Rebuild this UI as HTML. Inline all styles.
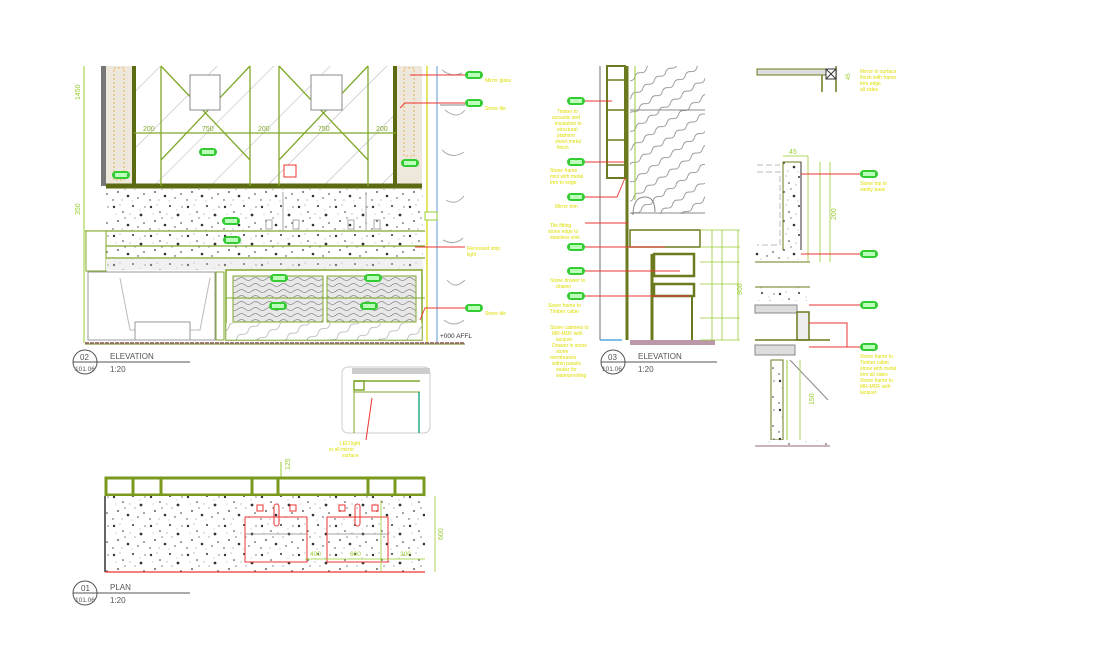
<!DOCTYPE html>
<html><head><meta charset="utf-8"><style>
html,body{margin:0;padding:0;background:#fff;}
svg{display:block;font-family:"Liberation Sans",sans-serif;}
</style></head><body>
<svg width="1111" height="662" viewBox="0 0 1111 662" xmlns="http://www.w3.org/2000/svg">
<defs>
<pattern id="tz" width="37" height="29" patternUnits="userSpaceOnUse">
<rect width="37" height="29" fill="#fff"/>
<g fill="#333">
<circle cx="3" cy="4" r="1.2"/><circle cx="12" cy="9" r="0.8"/><circle cx="22" cy="3" r="1"/><circle cx="30" cy="12" r="1.4"/>
<circle cx="7" cy="18" r="0.9"/><circle cx="17" cy="22" r="1.3"/><circle cx="27" cy="24" r="0.7"/><circle cx="34" cy="4" r="0.6"/>
<circle cx="14" cy="15" r="0.6"/><circle cx="2" cy="26" r="0.7"/><circle cx="24" cy="15" r="0.5"/><circle cx="33" cy="20" r="0.8"/>
</g>
<g fill="#999"><circle cx="9" cy="2" r="0.6"/><circle cx="19" cy="11" r="0.6"/><circle cx="29" cy="7" r="0.5"/><circle cx="5" cy="11" r="0.5"/><circle cx="11" cy="26" r="0.6"/><circle cx="21" cy="27" r="0.5"/></g>
</pattern>
<pattern id="wv" width="14" height="12" patternUnits="userSpaceOnUse">
<rect width="14" height="12" fill="#e8e8e8"/>
<path d="M0 3 Q3.5 0 7 3 T14 3 M0 9 Q3.5 6 7 9 T14 9" stroke="#888" stroke-width="0.8" fill="none"/>
</pattern>
<pattern id="hatch" width="14" height="14" patternUnits="userSpaceOnUse" patternTransform="rotate(-35)">
<rect width="14" height="14" fill="#fff"/>
<path d="M0 7 Q3.5 4 7 7 T14 7" stroke="#777" stroke-width="0.8" fill="none"/>
</pattern>
<pattern id="diag" width="40" height="40" patternUnits="userSpaceOnUse" patternTransform="rotate(45)">
<line x1="0" y1="0" x2="0" y2="40" stroke="#999" stroke-width="0.8"/>
</pattern>
<g id="pill"><rect x="0" y="0" width="18" height="8" rx="4" fill="#3c3" /><rect x="3" y="2" width="12" height="4" fill="#bfb"/></g>
</defs>

<!-- ============ ELEVATION 02 ============ -->
<g>
<line x1="84" y1="66" x2="84" y2="343" stroke="#9c3" stroke-width="1"/>
<text x="80" y="100" font-size="7" fill="#9c3" transform="rotate(-90 80 100)">1450</text>
<text x="80" y="215" font-size="7" fill="#9c3" transform="rotate(-90 80 215)">350</text>
<rect x="101" y="66" width="5" height="120" fill="#777"/>
<!-- pillars -->
<rect x="106" y="66" width="27" height="120" fill="#eee8dc"/>
<rect x="114" y="68" width="10" height="112" fill="none" stroke="#e9a23b" stroke-width="0.8" stroke-dasharray="2,2"/>
<rect x="396" y="66" width="26" height="120" fill="#eee8dc"/>
<rect x="404" y="68" width="10" height="88" fill="none" stroke="#e9a23b" stroke-width="0.8" stroke-dasharray="2,2"/>
<!-- mirror -->
<rect x="134" y="66" width="262" height="120" fill="#fff"/>
<rect x="134" y="66" width="262" height="120" fill="url(#diag)"/>
<line x1="134" y1="66" x2="134" y2="188" stroke="#5a6b12" stroke-width="4"/>
<line x1="395" y1="66" x2="395" y2="188" stroke="#5a6b12" stroke-width="4"/>
<line x1="106" y1="186" x2="422" y2="186" stroke="#5a6b12" stroke-width="5"/>
<g stroke="#7fa82a" stroke-width="1.3">
<line x1="161" y1="66" x2="161" y2="186"/><line x1="250" y1="66" x2="250" y2="186"/>
<line x1="279" y1="66" x2="279" y2="186"/><line x1="368" y1="66" x2="368" y2="186"/>
<line x1="134" y1="133" x2="396" y2="133"/>
<line x1="161" y1="66" x2="250" y2="160"/><line x1="250" y1="66" x2="161" y2="160"/>
<line x1="279" y1="66" x2="368" y2="160"/><line x1="368" y1="66" x2="279" y2="160"/>
</g>
<rect x="190" y="75" width="30" height="35" fill="#fff" stroke="#888" stroke-width="1"/>
<rect x="311" y="75" width="31" height="35" fill="#fff" stroke="#888" stroke-width="1"/>
<g font-size="7" fill="#7fa82a"><text x="143" y="131">200</text><text x="202" y="131">750</text><text x="258" y="131">200</text><text x="318" y="131">750</text><text x="376" y="131">200</text></g>
<rect x="284" y="165" width="12" height="12" fill="#fff" stroke="#e33" stroke-width="1"/>
<use href="#pill" x="199" y="148"/><use href="#pill" x="112" y="171"/><use href="#pill" x="401" y="159"/>
<!-- terrazzo -->
<rect x="106" y="189" width="317" height="69" fill="url(#tz)"/>
<g stroke="#7fa82a" stroke-width="1.2"><line x1="85" y1="231" x2="425" y2="231"/><line x1="106" y1="246" x2="425" y2="246"/><line x1="106" y1="258" x2="425" y2="258"/></g>
<rect x="86" y="231" width="20" height="40" fill="#fff" stroke="#7fa82a" stroke-width="1"/>
<use href="#pill" x="222" y="217"/><use href="#pill" x="223" y="236"/>
<g stroke="#aaa" fill="none" stroke-width="1"><line x1="283" y1="192" x2="283" y2="230"/><line x1="366" y1="192" x2="366" y2="230"/><rect x="266" y="220" width="6" height="9"/><rect x="293" y="220" width="6" height="9"/><rect x="348" y="220" width="6" height="9"/><rect x="374" y="220" width="6" height="9"/></g>
<rect x="106" y="259" width="317" height="11" fill="#ddd"/>
<rect x="106" y="259" width="317" height="11" fill="url(#tz)" opacity="0.6"/>
<!-- bathtub -->
<path d="M88 272 L215 272 L215 340 L88 340 Z" fill="#fff" stroke="#999" stroke-width="1"/>
<path d="M120 278 L130 330 L200 330 L210 278" fill="none" stroke="#bbb"/>
<rect x="135" y="322" width="55" height="18" fill="#fff" stroke="#999"/>
<rect x="216" y="272" width="8" height="68" fill="#fff" stroke="#7fa82a"/>
<!-- cabinet -->
<rect x="226" y="270" width="196" height="70" fill="#fff" stroke="#7fa82a" stroke-width="1.5"/>
<rect x="233" y="276" width="90" height="46" fill="url(#wv)" stroke="#7fa82a"/>
<rect x="327" y="276" width="89" height="46" fill="url(#wv)" stroke="#7fa82a"/>
<line x1="226" y1="298" x2="425" y2="298" stroke="#7fa82a"/>
<use href="#pill" x="270" y="274"/><use href="#pill" x="364" y="274"/><use href="#pill" x="269" y="302"/><use href="#pill" x="360" y="302"/>
<rect x="226" y="323" width="196" height="17" fill="url(#hatch)" opacity="0.6"/>
<!-- right walls -->
<line x1="427" y1="66" x2="427" y2="343" stroke="#dd3" stroke-width="1.5"/>
<line x1="437" y1="66" x2="437" y2="343" stroke="#7ad" stroke-width="1.2"/>
<path d="M442 70 q10 8 20 3 M445 110 q12 10 20 0 M442 150 q10 10 22 2 M446 200 q10 6 18 -4 M443 240 q12 6 20 -2 M447 280 q8 10 18 0 M444 320 q10 8 20 0" stroke="#aaa" fill="none"/>
<line x1="440" y1="105" x2="465" y2="105" stroke="#888"/>
<rect x="425" y="212" width="12" height="8" fill="#fff" stroke="#9c3"/>
<line x1="85" y1="343" x2="465" y2="343" stroke="#a78" stroke-width="2" stroke-dasharray="4,1"/>
<line x1="85" y1="344" x2="465" y2="344" stroke="#6b7a1e" stroke-width="1" />
<text x="440" y="338" font-size="6.5" fill="#333">+000 AFFL</text>
<!-- labels -->
<g stroke="#e33" stroke-width="0.9" fill="none">
<line x1="410" y1="75" x2="465" y2="75"/><polyline points="400,108 405,103 465,103"/>
<line x1="415" y1="247" x2="465" y2="247"/><polyline points="420,320 425,308 465,308"/>
</g>
<use href="#pill" x="465" y="71"/><use href="#pill" x="465" y="99"/><use href="#pill" x="465" y="304"/>
<g font-size="5" fill="#dd0"><text x="485" y="82">Mirror glass</text><text x="485" y="110">Stone tile</text><text x="467" y="250">Recessed strip</text><text x="467" y="256">light</text><text x="485" y="315">Stone tile</text></g>
<!-- title -->
<circle cx="85" cy="362" r="12" fill="#fff" stroke="#555"/>
<line x1="73" y1="362" x2="190" y2="362" stroke="#555"/>
<text x="80" y="360" font-size="8" fill="#555">02</text>
<text x="75" y="371" font-size="6.5" fill="#555">101.06</text>
<text x="110" y="359" font-size="8" fill="#555">ELEVATION</text>
<text x="110" y="372" font-size="8" fill="#555">1:20</text>
</g>

<!-- small detail -->
<g>
<rect x="342" y="367" width="88" height="66" rx="6" fill="#fff" stroke="#ccc"/>
<rect x="352" y="368" width="78" height="6" fill="#ccc"/>
<rect x="354" y="381" width="10" height="9" fill="#fff" stroke="#7fa82a" stroke-width="1.5"/>
<line x1="354" y1="381" x2="420" y2="381" stroke="#7fa82a" stroke-width="1.5"/>
<line x1="354" y1="392" x2="420" y2="392" stroke="#7fa82a"/>
<line x1="354" y1="381" x2="354" y2="433" stroke="#7fa82a"/>
<line x1="419" y1="392" x2="419" y2="433" stroke="#2a8" stroke-width="1.5"/>
<line x1="372" y1="398" x2="366" y2="440" stroke="#e33"/>
<g font-size="5" fill="#dd0"><text x="340" y="445">LED light</text><text x="329" y="451">to all mirror</text><text x="342" y="457">surface</text></g>
</g>

<!-- ============ PLAN 01 ============ -->
<g>
<line x1="281" y1="462" x2="281" y2="495" stroke="#9c3"/>
<text x="290" y="470" font-size="7" fill="#9c3" transform="rotate(-90 290 470)">125</text>
<rect x="106" y="478" width="318" height="17" fill="#fff" stroke="#7a9a1e" stroke-width="3"/>
<g stroke="#7a9a1e" stroke-width="3"><line x1="133" y1="478" x2="133" y2="495"/><line x1="161" y1="478" x2="161" y2="495"/><line x1="252" y1="478" x2="252" y2="495"/><line x1="278" y1="478" x2="278" y2="495"/><line x1="368" y1="478" x2="368" y2="495"/><line x1="395" y1="478" x2="395" y2="495"/></g>
<rect x="105" y="496" width="320" height="76" fill="url(#tz)"/>
<line x1="105" y1="496" x2="105" y2="572" stroke="#666" stroke-width="2"/>
<line x1="105" y1="572" x2="425" y2="572" stroke="#e33" stroke-width="1.3"/>
<g stroke="#e33" stroke-width="1" fill="none">
<rect x="245" y="517" width="62" height="45"/><rect x="327" y="517" width="61" height="45"/>
<rect x="257" y="505" width="6" height="6"/><rect x="290" y="505" width="6" height="6"/>
<rect x="339" y="505" width="6" height="6"/><rect x="372" y="505" width="6" height="6"/>
<rect x="274" y="504" width="5" height="22" rx="2.5"/><rect x="355" y="504" width="5" height="22" rx="2.5"/>
</g>
<g stroke="#888" stroke-width="0.8"><line x1="245" y1="534" x2="307" y2="534"/><line x1="327" y1="534" x2="388" y2="534"/></g>
<g stroke="#9c3" stroke-width="0.8"><line x1="435" y1="496" x2="435" y2="572"/><line x1="305" y1="559" x2="425" y2="559"/><line x1="381" y1="500" x2="381" y2="572"/></g>
<text x="443" y="540" font-size="7" fill="#9c3" transform="rotate(-90 443 540)">600</text>
<g font-size="6.5" fill="#9c3"><text x="310" y="556">400</text><text x="350" y="556">600</text><text x="400" y="556">300</text></g>
<circle cx="85" cy="593" r="12" fill="#fff" stroke="#555"/>
<line x1="73" y1="593" x2="190" y2="593" stroke="#555"/>
<text x="81" y="591" font-size="8" fill="#555">01</text>
<text x="75" y="602" font-size="6.5" fill="#555">101.06</text>
<text x="110" y="590" font-size="8" fill="#555">PLAN</text>
<text x="110" y="603" font-size="8" fill="#555">1:20</text>
</g>

<!-- ============ ELEVATION 03 ============ -->
<g>
<line x1="600" y1="66" x2="600" y2="340" stroke="#888" stroke-width="1.2"/>
<line x1="600" y1="340" x2="622" y2="340" stroke="#39d" stroke-width="1.2"/>
<rect x="607" y="66" width="18" height="112" fill="#fff" stroke="#6b7a1e" stroke-width="2"/>
<g stroke="#6b7a1e" stroke-width="1.5"><line x1="607" y1="80" x2="625" y2="80"/><line x1="607" y1="110" x2="625" y2="110"/><line x1="607" y1="140" x2="625" y2="140"/><line x1="607" y1="165" x2="625" y2="165"/></g>
<rect x="630" y="66" width="75" height="148" fill="url(#hatch)"/>
<g stroke="#888"><line x1="630" y1="110" x2="705" y2="110"/><line x1="630" y1="213" x2="705" y2="213"/></g>
<line x1="627" y1="66" x2="627" y2="340" stroke="#6b7a1e" stroke-width="3"/>
<line x1="635" y1="66" x2="635" y2="200" stroke="#9c3"/>
<path d="M633 215 q0 -18 12 -18 q10 0 10 15" fill="none" stroke="#888"/>
<rect x="630" y="230" width="70" height="17" fill="#fff" stroke="#6b7a1e" stroke-width="1.5"/>
<rect x="654" y="254" width="40" height="22" fill="#fff" stroke="#6b7a1e" stroke-width="2.5"/>
<rect x="654" y="284" width="40" height="12" fill="#fff" stroke="#6b7a1e" stroke-width="2.5"/>
<line x1="652" y1="254" x2="652" y2="340" stroke="#6b7a1e" stroke-width="3"/>
<line x1="692" y1="296" x2="692" y2="340" stroke="#6b7a1e" stroke-width="2"/>
<rect x="630" y="340" width="85" height="5" fill="#b9a"/>
<g stroke="#9c3" stroke-width="0.8"><line x1="712" y1="230" x2="712" y2="340"/><line x1="722" y1="230" x2="722" y2="340"/><line x1="738" y1="230" x2="738" y2="340"/>
<line x1="700" y1="230" x2="740" y2="230"/><line x1="700" y1="247" x2="740" y2="247"/><line x1="700" y1="262" x2="740" y2="262"/><line x1="700" y1="284" x2="740" y2="284"/><line x1="700" y1="318" x2="740" y2="318"/><line x1="700" y1="340" x2="740" y2="340"/></g>
<text x="742" y="295" font-size="7" fill="#9c3" transform="rotate(-90 742 295)">900</text>
<g stroke="#e33" stroke-width="0.9" fill="none">
<line x1="585" y1="101" x2="612" y2="101"/><line x1="585" y1="162" x2="624" y2="162"/><polyline points="585,197 617,197 625,178"/>
<line x1="585" y1="223" x2="628" y2="223"/><line x1="585" y1="247" x2="665" y2="247"/><line x1="585" y1="271" x2="680" y2="271"/><line x1="585" y1="296" x2="690" y2="296"/>
</g>
<use href="#pill" x="567" y="97"/><use href="#pill" x="567" y="158"/><use href="#pill" x="567" y="193"/><use href="#pill" x="567" y="243"/><use href="#pill" x="567" y="267"/><use href="#pill" x="567" y="292"/>
<g font-size="5" fill="#dd0">
<text x="557" y="113">Timber to</text><text x="552" y="119">acoustic and</text><text x="555" y="125">insulation to</text><text x="557" y="131">structural</text><text x="557" y="137">platform</text><text x="555" y="143">sheet metal</text><text x="557" y="149">finish</text>
<text x="550" y="172">Stone frame</text><text x="550" y="178">mist with metal</text><text x="550" y="184">trim to edge</text>
<text x="555" y="208">Mirror trim</text>
<text x="550" y="227">Tile fitting</text><text x="548" y="233">stone edge to</text><text x="550" y="239">stainless sink</text>
<text x="550" y="282">Stone drawer to</text><text x="556" y="288">drawer</text>
<text x="548" y="307">Stone frame to</text><text x="550" y="313">Timber cabin</text>
<text x="550" y="329">Stone cabinets to</text><text x="552" y="335">MR-MDF with</text><text x="556" y="341">lacquer</text><text x="552" y="347">Drawer in stone</text><text x="556" y="353">stone</text><text x="550" y="359">membranes</text><text x="552" y="365">within panels</text><text x="556" y="371">sealer for</text><text x="556" y="377">waterproofing</text>
</g>
<circle cx="613" cy="362" r="12" fill="#fff" stroke="#555"/>
<line x1="601" y1="362" x2="717" y2="362" stroke="#555"/>
<text x="608" y="360" font-size="8" fill="#555">03</text>
<text x="602" y="371" font-size="6.5" fill="#555">101.06</text>
<text x="638" y="359" font-size="8" fill="#555">ELEVATION</text>
<text x="638" y="372" font-size="8" fill="#555">1:20</text>
</g>

<!-- ============ DETAILS RIGHT ============ -->
<g>
<rect x="757" y="69" width="70" height="6" fill="#ddd" stroke="#6b7a1e"/>
<line x1="822" y1="75" x2="822" y2="92" stroke="#6b7a1e" stroke-width="1.5"/>
<line x1="836" y1="66" x2="836" y2="92" stroke="#6b7a1e" stroke-width="1.5"/>
<rect x="826" y="69" width="10" height="10" fill="#fff" stroke="#333"/>
<line x1="826" y1="69" x2="836" y2="79" stroke="#333"/><line x1="836" y1="69" x2="826" y2="79" stroke="#333"/>
<text x="850" y="80" font-size="6" fill="#9c3" transform="rotate(-90 850 80)">45</text>
<g font-size="5" fill="#dd0"><text x="860" y="73">Mirror to surface</text><text x="860" y="79">finish with frame</text><text x="860" y="85">trim edge</text><text x="860" y="91">all sides</text></g>

<!-- mid detail -->
<rect x="783" y="162" width="18" height="100" fill="url(#tz)" stroke="#6b7a1e"/>
<line x1="801" y1="162" x2="801" y2="262" stroke="#333" stroke-width="1"/>
<path d="M757 165 L780 165 M757 172 L780 172 L780 245 L757 245" stroke="#bbb" fill="none" stroke-dasharray="6,3"/>
<rect x="755" y="250" width="48" height="12" fill="url(#tz)"/>
<line x1="755" y1="262" x2="810" y2="262" stroke="#6b7a1e"/>
<g stroke="#9c3" stroke-width="0.8"><line x1="783" y1="156" x2="808" y2="156"/><line x1="808" y1="156" x2="808" y2="262"/><line x1="820" y1="162" x2="820" y2="262"/><line x1="830" y1="162" x2="830" y2="262"/></g>
<text x="789" y="154" font-size="7" fill="#9c3">45</text>
<text x="836" y="220" font-size="7" fill="#9c3" transform="rotate(-90 836 220)">200</text>
<line x1="801" y1="174" x2="860" y2="174" stroke="#e33"/><line x1="801" y1="254" x2="860" y2="254" stroke="#e33"/>
<use href="#pill" x="860" y="170"/><use href="#pill" x="860" y="250"/>
<g font-size="5" fill="#dd0"><text x="860" y="185">Stone top to</text><text x="860" y="191">vanity base</text></g>

<!-- detail 3 -->
<rect x="755" y="287" width="52" height="14" fill="url(#tz)"/>
<line x1="755" y1="287" x2="810" y2="287" stroke="#6b7a1e"/>
<rect x="755" y="305" width="42" height="8" fill="#ddd" stroke="#888"/>
<rect x="797" y="312" width="12" height="28" fill="#eee" stroke="#6b7a1e" stroke-width="1.5"/>
<line x1="755" y1="340" x2="830" y2="340" stroke="#6b7a1e" stroke-width="1.5"/>
<line x1="809" y1="305" x2="860" y2="305" stroke="#e33"/><use href="#pill" x="860" y="301"/>
<polyline points="809,323 847,323 847,347 860,347" stroke="#e33" fill="none"/><polyline points="809,347 860,347" stroke="#e33"/>
<use href="#pill" x="860" y="343"/>
<g font-size="5" fill="#dd0"><text x="860" y="358">Stone frame to</text><text x="860" y="364">Timber cabin</text><text x="860" y="370">stone with metal</text><text x="860" y="376">trim all sides</text><text x="860" y="382">Stone frame to</text><text x="860" y="388">MR-MDF with</text><text x="860" y="394">lacquer</text></g>

<!-- detail 4 -->
<rect x="755" y="345" width="40" height="10" fill="#ddd" stroke="#888"/>
<rect x="771" y="360" width="12" height="80" fill="url(#tz)" stroke="#6b7a1e"/>
<line x1="787" y1="360" x2="787" y2="440" stroke="#9c3"/>
<line x1="790" y1="360" x2="828" y2="400" stroke="#888"/>
<line x1="800" y1="360" x2="800" y2="440" stroke="#9c3" stroke-width="0.8"/>
<text x="814" y="405" font-size="7" fill="#9c3" transform="rotate(-90 814 405)">150</text>
<rect x="755" y="440" width="75" height="6" fill="url(#tz)"/>
<line x1="755" y1="446" x2="830" y2="446" stroke="#b9a" stroke-width="1.5"/>
</g>
</svg>
</body></html>
